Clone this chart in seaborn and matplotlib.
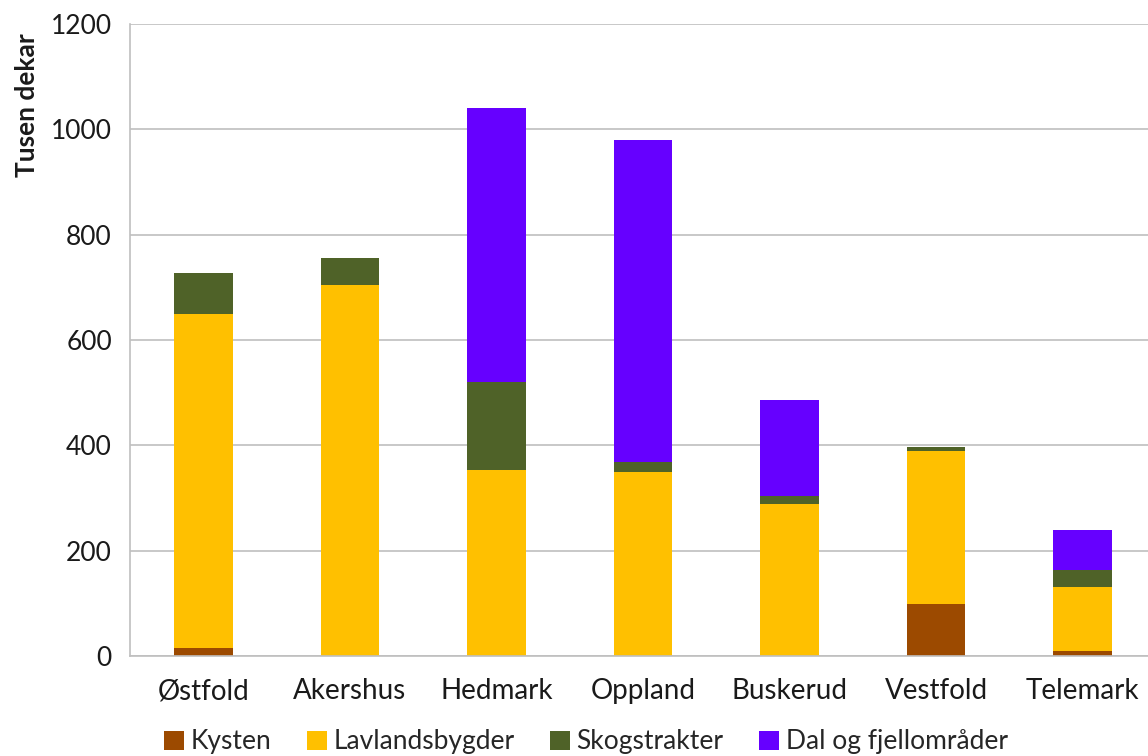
import matplotlib
matplotlib.use("Agg")
import matplotlib.pyplot as plt
import seaborn as sns
import numpy as np
import pandas as pd
from matplotlib.patches import Patch

regions = ["Østfold", "Akershus", "Hedmark", "Oppland", "Buskerud", "Vestfold", "Telemark"]
series_names = ["Kysten", "Lavlandsbygder", "Skogstrakter", "Dal og fjellområder"]
kysten = [15, 0, 0, 0, 0, 99, 9]
lavland = [635, 705, 353, 349, 289, 290, 122]
skog = [77, 50, 167, 19, 15, 8, 32]
dal = [0, 0, 520, 612, 182, 0, 76]
colors = ["#9C4A00", "#FFC000", "#4F6228", "#6600FF"]
y_ticks = [0, 200, 400, 600, 800, 1000, 1200]

sns.set_style("white")
plt.rcParams['font.family'] = ['Lato', 'DejaVu Sans']

fig = plt.figure(figsize=(11.48, 7.56), dpi=100)
ax = fig.add_axes([130/1148, 1-656/756, (1156-130)/1148, (656-24)/756])

layers = [kysten, lavland, skog, dal]
cum = np.cumsum(np.array(layers), axis=0)
# draw from top layer down so lower layers overlay
for i in range(len(layers) - 1, -1, -1):
    df = pd.DataFrame({"region": regions, "value": cum[i]})
    sns.barplot(data=df, x="region", y="value", color=colors[i], width=0.4,
                saturation=1, ax=ax, order=regions, linewidth=0)

ax.set_ylim(0, 1200)
ax.set_xlim(-0.5, len(regions) - 0.5)
ax.set_yticks(y_ticks)
ax.set_yticklabels([str(t) for t in y_ticks], fontsize=19, color="#1a1a1a")
ax.set_xticks(range(len(regions)))
ax.set_xticklabels(regions, fontsize=20, color="#1a1a1a")
ax.tick_params(axis="x", length=0, pad=16)
ax.tick_params(axis="y", length=8, color="#BFBFBF", width=1, pad=5)
ax.set_xticks(np.arange(0.5, len(regions) - 0.5, 1), minor=True)
ax.tick_params(axis="x", which="minor", length=8, color="#BFBFBF", width=1)
ax.set_xlabel("")
ax.set_ylabel("")
ax.grid(axis="y", color="#BFBFBF", linewidth=1.2)
ax.set_axisbelow(True)
for s in ["top", "right"]:
    ax.spines[s].set_visible(False)
for s in ["left", "bottom"]:
    ax.spines[s].set_color("#BFBFBF")
    ax.spines[s].set_linewidth(1.2)

fig.text(27/1148, 1-105/756, "Tusen dekar", rotation=90, fontsize=19,
         fontweight="bold", ha="center", va="center", color="#1a1a1a")

handles = [Patch(facecolor=c, edgecolor="none") for c in colors]
fig.legend(handles, series_names, loc="center", bbox_to_anchor=(586/1148, 1-742/756),
           ncol=4, frameon=False, fontsize=19, handlelength=0.75, handleheight=0.75,
           handletextpad=0.25, columnspacing=1.35)

fig.savefig("out.png", dpi=100)
